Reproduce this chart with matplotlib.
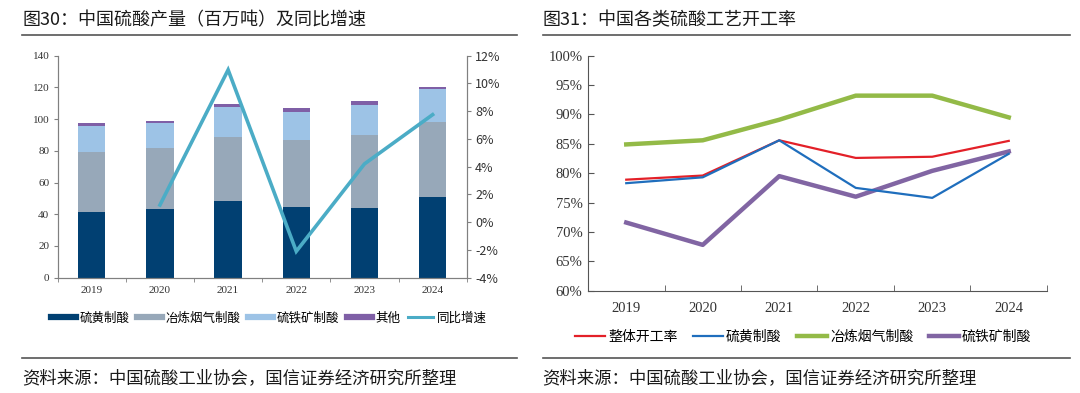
import matplotlib
matplotlib.use("Agg")
import matplotlib.pyplot as plt
from matplotlib.lines import Line2D
import numpy as np

plt.rcParams['font.family'] = ['Noto Sans CJK SC', 'DejaVu Sans']

years = ['2019', '2020', '2021', '2022', '2023', '2024']
# Left chart: production (million tonnes), stacked
sulfur = [41.4, 43.5, 48.1, 44.4, 43.9, 51.1]
smelter = [37.6, 38.5, 40.8, 42.4, 46.1, 47.3]
pyrite = [16.9, 15.3, 18.9, 17.9, 19.1, 20.4]
other = [1.4, 1.5, 1.9, 2.3, 2.5, 1.4]
yoy_years = ['2020', '2021', '2022', '2023', '2024']
yoy = [1.24, 10.98, -2.1, 4.2, 7.75]

# Right chart: operating rates (%)
overall = [78.9, 79.6, 85.6, 82.6, 82.8, 85.5]
sulfur_rate = [78.3, 79.3, 85.6, 77.5, 75.8, 83.3]
smelter_rate = [84.9, 85.6, 89.1, 93.2, 93.2, 89.5]
pyrite_rate = [71.6, 67.8, 79.5, 76.0, 80.4, 83.7]

W, H = 1080, 393
fig = plt.figure(figsize=(W / 100, H / 100), dpi=100)
fig.patch.set_facecolor('white')

def fx(px):
    return px / W

def fy(py):
    return 1 - py / H

serif = 'Liberation Serif'
axis_col = '#808080'

# ---------- titles / rules ----------
fig.text(fx(22), fy(20), '图30：中国硫酸产量（百万吨）及同比增速', fontsize=13,
         va='center', ha='left', color='#1a1a1a')
fig.text(fx(542), fy(20), '图31：中国各类硫酸工艺开工率', fontsize=13,
         va='center', ha='left', color='#1a1a1a')
for x0, x1 in [(22, 517), (543, 1070)]:
    fig.add_artist(Line2D([fx(x0), fx(x1)], [fy(35), fy(35)], color='#555555', lw=1.2))
    fig.add_artist(Line2D([fx(x0), fx(x1)], [fy(358), fy(358)], color='#555555', lw=1.2))
fig.text(fx(22), fy(378), '资料来源：中国硫酸工业协会，国信证券经济研究所整理', fontsize=12.5,
         va='center', ha='left', color='#1a1a1a')
fig.text(fx(542), fy(378), '资料来源：中国硫酸工业协会，国信证券经济研究所整理', fontsize=12.5,
         va='center', ha='left', color='#1a1a1a')

# ---------- left chart ----------
axL = fig.add_axes([fx(57.7), fy(277.7), fx(466.7 - 57.7), fy(55.7) - fy(277.7)])
x = np.arange(len(years))
bw = 0.4
c_sulfur, c_smelter, c_pyrite, c_other, c_line = '#014072', '#97A8B9', '#9DC3E6', '#7F5FA6', '#4BACC6'
b1 = np.array(sulfur)
b2 = b1 + np.array(smelter)
b3 = b2 + np.array(pyrite)
axL.bar(x, sulfur, bw, color=c_sulfur, zorder=2)
axL.bar(x, smelter, bw, bottom=b1, color=c_smelter, zorder=2)
axL.bar(x, pyrite, bw, bottom=b2, color=c_pyrite, zorder=2)
axL.bar(x, other, bw, bottom=b3, color=c_other, zorder=2)
axL.set_xlim(-0.5, len(years) - 0.5)
axL.set_ylim(0, 140)
axL.set_yticks(range(0, 141, 20))
axL.set_xticks(x)
axL.set_xticklabels(years)
axL.set_xticks(np.arange(-0.5, len(years), 1), minor=True)
axL.tick_params(axis='x', which='major', length=0, pad=6)
axL.tick_params(axis='x', which='minor', length=3, color=axis_col)
axL.tick_params(axis='y', length=3, color=axis_col, pad=3)
for lab in axL.get_xticklabels() + axL.get_yticklabels():
    lab.set_fontfamily(serif)
    lab.set_fontsize(8)
    lab.set_color('#333333')
axL.spines['top'].set_visible(False)
for s in ['left', 'bottom', 'right']:
    axL.spines[s].set_color(axis_col)

axR2 = axL.twinx()
yx = [years.index(y) for y in yoy_years]
axR2.plot(yx, yoy, color=c_line, lw=2.6, zorder=3, solid_joinstyle='miter')
axR2.set_ylim(-4, 12)
axR2.set_yticks(range(-4, 13, 2))
axR2.set_yticklabels([f'{v}%' for v in range(-4, 13, 2)])
axR2.tick_params(axis='y', length=3, color=axis_col, pad=3)
for lab in axR2.get_yticklabels():
    lab.set_fontsize(9)
    lab.set_color('#333333')
axR2.spines['top'].set_visible(False)
for s in ['left', 'bottom', 'right']:
    axR2.spines[s].set_color(axis_col)

hL = [Line2D([], [], color=c_sulfur, lw=4.5),
      Line2D([], [], color=c_smelter, lw=4.5),
      Line2D([], [], color=c_pyrite, lw=4.5),
      Line2D([], [], color=c_other, lw=4.5),
      Line2D([], [], color=c_line, lw=2.2)]
fig.legend(hL, ['硫黄制酸', '冶炼烟气制酸', '硫铁矿制酸', '其他', '同比增速'],
           loc='center', bbox_to_anchor=(fx(269), fy(318)), ncol=5, frameon=False,
           fontsize=9, handlelength=2.0, handletextpad=0.3, columnspacing=0.6)

# ---------- right chart ----------
axB = fig.add_axes([fx(588), fy(290.7), fx(1047 - 588), fy(55.7) - fy(290.7)])
c_red, c_blue, c_green, c_purple = '#E32028', '#1F6EBD', '#93BA47', '#8165A3'
axB.plot(x, overall, color=c_red, lw=1.6, zorder=3)
axB.plot(x, sulfur_rate, color=c_blue, lw=1.6, zorder=3)
axB.plot(x, smelter_rate, color=c_green, lw=3.2, zorder=2)
axB.plot(x, pyrite_rate, color=c_purple, lw=3.2, zorder=2)
axB.set_xlim(-0.5, len(years) - 0.5)
axB.set_ylim(60, 100)
axB.set_yticks(range(60, 101, 5))
axB.set_yticklabels([f'{v}%' for v in range(60, 101, 5)])
axB.set_xticks(x)
axB.set_xticklabels(years)
axB.set_xticks(np.arange(-0.5, len(years), 1), minor=True)
axB.tick_params(axis='x', which='major', length=0, pad=8)
axB.tick_params(axis='x', which='minor', length=4, color='#555555', direction='in')
axB.tick_params(axis='y', length=4, color='#555555', direction='in', pad=4)
for lab in axB.get_xticklabels() + axB.get_yticklabels():
    lab.set_fontfamily(serif)
    lab.set_fontsize(10.5)
    lab.set_color('#333333')
axB.spines['top'].set_visible(False)
axB.spines['right'].set_visible(False)
for s in ['left', 'bottom']:
    axB.spines[s].set_color('#555555')

hR = [Line2D([], [], color=c_red, lw=1.6),
      Line2D([], [], color=c_blue, lw=1.6),
      Line2D([], [], color=c_green, lw=3.2),
      Line2D([], [], color=c_purple, lw=3.2)]
fig.legend(hR, ['整体开工率', '硫黄制酸', '冶炼烟气制酸', '硫铁矿制酸'],
           loc='center', bbox_to_anchor=(fx(803), fy(337)), ncol=4, frameon=False,
           fontsize=10, handlelength=2.2, handletextpad=0.2, columnspacing=1.1)

fig.savefig('out.png', dpi=100, facecolor='white')
